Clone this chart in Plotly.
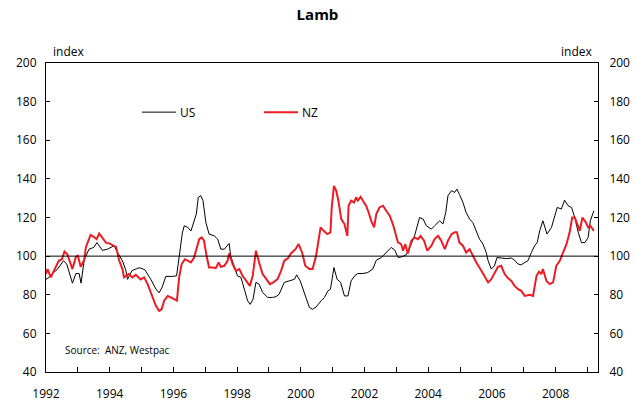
import plotly.graph_objects as go

# ---- data (decimal years, index values) ----
us_t = [1992.0, 1992.1, 1992.2, 1992.35, 1992.55, 1992.65, 1992.83, 1992.94, 1993.04, 1993.1,
        1993.2, 1993.35, 1993.5, 1993.6, 1993.77, 1993.93, 1994.14, 1994.24, 1994.4, 1994.5,
        1994.56, 1994.7, 1994.85, 1994.93, 1995.1, 1995.29, 1995.45, 1995.55, 1995.65, 1995.76,
        1995.97, 1996.1, 1996.2, 1996.28, 1996.34, 1996.45, 1996.55, 1996.65, 1996.72, 1996.78,
        1996.86, 1996.93, 1997.02, 1997.12, 1997.28, 1997.39, 1997.49, 1997.6, 1997.75, 1997.8,
        1997.91, 1998.01, 1998.12, 1998.22, 1998.33, 1998.41, 1998.5, 1998.59, 1998.69, 1998.8,
        1998.96, 1999.11, 1999.22, 1999.32, 1999.48, 1999.64, 1999.8, 1999.87, 1999.98, 2000.16,
        2000.27, 2000.37, 2000.48, 2000.64, 2000.74, 2000.85, 2000.93, 2001.04, 2001.14, 2001.25,
        2001.37, 2001.48, 2001.58, 2001.69, 2001.79, 2001.95, 2002.1, 2002.26, 2002.37, 2002.53,
        2002.68, 2002.84, 2002.95, 2003.05, 2003.18, 2003.31, 2003.42, 2003.57, 2003.73, 2003.84,
        2003.94, 2004.1, 2004.2, 2004.36, 2004.46, 2004.55, 2004.62, 2004.73, 2004.83, 2004.9,
        2004.98, 2005.09, 2005.19, 2005.3, 2005.4, 2005.51, 2005.61, 2005.72, 2005.82, 2005.88,
        2005.98, 2006.08, 2006.16, 2006.3, 2006.45, 2006.61, 2006.71, 2006.82, 2006.92, 2007.03,
        2007.13, 2007.24, 2007.34, 2007.42, 2007.5, 2007.6, 2007.73, 2007.87, 2007.97, 2008.05,
        2008.18, 2008.28, 2008.39, 2008.5, 2008.6, 2008.71, 2008.81, 2008.92, 2009.02, 2009.09,
        2009.2]
us_v = [88, 89, 91, 93, 97.6, 96, 86, 91, 91, 86,
        98, 103.6, 104.5, 107, 103, 103.6, 105.4, 102, 97.6, 93,
        88, 92.5, 93.5, 94, 93, 88, 83, 81, 84, 89.5,
        89.5, 89.8, 102, 112, 115.7, 114.9, 113, 118, 121.8, 130.4,
        131.3, 128.7, 117.4, 111.4, 110.5, 108.8, 103.6, 103.6, 106.6, 100,
        94, 89.8, 89, 83.8, 76.9, 75, 77.7, 86.4, 85.5, 81.2,
        78.6, 78.6, 79, 80.3, 86.4, 87.2, 88, 90.3, 87.2, 78.6,
        73.4, 72.5, 73.7, 76.9, 78.6, 82, 82.9, 94.1, 88, 86.4,
        79.4, 79.4, 87.2, 89.8, 91, 91, 91.5, 93.3, 97.9, 99.3,
        101.9, 104.5, 103.1, 99.3, 99.7, 100.7, 104.5, 110.5, 120, 119.2,
        115.7, 114, 115.7, 118.3, 116.6, 122.6, 131.3, 133.9, 133, 134.7,
        132, 127.8, 122.6, 119.2, 117.4, 112.3, 108.8, 106.2, 101.9, 97.6,
        93.3, 95, 99.3, 99, 98.7, 99, 97.9, 95.9, 95.5, 96.7,
        97.6, 101.9, 105.4, 107, 113.1, 118.3, 111.4, 114.9, 120, 125.2,
        124.4, 129, 126.1, 125.2, 120, 112.3, 107, 107, 109.7, 118.3,
        123.5]

nz_t = [1992.0, 1992.05, 1992.15, 1992.3, 1992.4, 1992.5, 1992.58, 1992.67, 1992.83, 1992.94,
        1993.0, 1993.09, 1993.2, 1993.25, 1993.35, 1993.4, 1993.5, 1993.59, 1993.67, 1993.77,
        1993.88, 1993.98, 1994.1, 1994.2, 1994.3, 1994.4, 1994.45, 1994.6, 1994.71, 1994.82,
        1994.97, 1995.08, 1995.19, 1995.34, 1995.45, 1995.55, 1995.63, 1995.71, 1995.82, 1995.92,
        1996.02, 1996.11, 1996.18, 1996.26, 1996.36, 1996.45, 1996.55, 1996.65, 1996.73, 1996.81,
        1996.89, 1996.96, 1997.04, 1997.12, 1997.23, 1997.33, 1997.42, 1997.49, 1997.6, 1997.7,
        1997.75, 1997.86, 1997.96, 1998.07, 1998.17, 1998.28, 1998.4, 1998.49, 1998.59, 1998.69,
        1998.8, 1998.92, 1999.03, 1999.14, 1999.27, 1999.38, 1999.48, 1999.59, 1999.69, 1999.83,
        1999.93, 2000.04, 2000.14, 2000.27, 2000.37, 2000.48, 2000.62, 2000.72, 2000.83, 2000.93,
        2000.97, 2001.04, 2001.11, 2001.18, 2001.27, 2001.37, 2001.46, 2001.5, 2001.58, 2001.67,
        2001.74, 2001.79, 2001.88, 2001.95, 2002.05, 2002.13, 2002.21, 2002.3, 2002.37, 2002.47,
        2002.58, 2002.68, 2002.79, 2002.89, 2002.97, 2003.05, 2003.15, 2003.21, 2003.28, 2003.36,
        2003.47, 2003.57, 2003.68, 2003.76, 2003.87, 2003.97, 2004.1, 2004.2, 2004.31, 2004.41,
        2004.52, 2004.62, 2004.73, 2004.83, 2004.9, 2004.98, 2005.09, 2005.19, 2005.3, 2005.4,
        2005.51, 2005.67, 2005.77, 2005.88, 2005.98, 2006.08, 2006.19, 2006.29, 2006.4, 2006.5,
        2006.61, 2006.71, 2006.82, 2006.92, 2007.03, 2007.19, 2007.29, 2007.4, 2007.48, 2007.55,
        2007.6, 2007.71, 2007.81, 2007.92, 2008.02, 2008.13, 2008.23, 2008.34, 2008.44, 2008.52,
        2008.6, 2008.67, 2008.76, 2008.84, 2008.95, 2009.02, 2009.09, 2009.2]
nz_v = [90.7, 93.3, 89, 93.8, 97.6, 98.4, 102.4, 101, 93.3, 99.7,
        100.2, 94.5, 98, 104.5, 108.3, 111, 110, 108.8, 111.7, 109.7,
        107, 106.6, 105.5, 104.8, 97.6, 93.3, 89, 90.7, 89, 90.3,
        87.9, 89, 85.5, 79.4, 74.3, 71.7, 72.5, 76.9, 79.4, 78.6,
        77.7, 76.9, 89, 95.9, 98.4, 97.6, 96.7, 99.3, 104.5, 108.8,
        109.7, 108, 100.2, 94.1, 94.1, 93.8, 96.7, 94.5, 95, 97.6,
        101.4, 95.9, 92.4, 93.3, 89.8, 87.2, 84.6, 89.8, 102.8, 96.7,
        90.7, 88.1, 85.5, 86.4, 88.1, 92.4, 97.6, 98.8, 101.4, 103.6,
        106.2, 101.9, 95, 93.3, 93.3, 100.2, 114.9, 113.1, 111.4, 112.3,
        125.2, 136.4, 133.9, 128.7, 119.2, 116.6, 110.5, 126.1, 128.7, 127.8,
        130.4, 128.7, 130.7, 128.7, 126.1, 122.6, 118.3, 114.9, 121.8, 125.2,
        126.1, 123.5, 120.9, 116.6, 111.4, 107.1, 106.2, 102.8, 106.2, 101.4,
        108, 109.7, 108.8, 110.5, 108, 102.8, 105.4, 108.8, 110.5, 108,
        103.6, 108, 111.4, 112.3, 112.3, 107, 105.4, 101.9, 103.6, 100.2,
        96.7, 92.4, 89.8, 86.4, 88.1, 91.5, 94.5, 95, 90.7, 88.6,
        87.2, 84.6, 82.9, 82, 79.4, 80, 79.4, 89.8, 92, 90.7,
        93.3, 87.2, 85.5, 86.4, 95, 97.6, 101.9, 106.2, 112.3, 120,
        120, 116.6, 113.1, 120, 117.4, 114.9, 115.7, 113.1]

year_ticks = list(range(1992, 2010))
year_labels = [str(y) if y % 2 == 0 else "" for y in year_ticks]
y_ticks = [40, 60, 80, 100, 120, 140, 160, 180, 200]
series_names = ["US", "NZ"]

FONT = "Open Sans"
RED = "#ec1c24"
COLORS = ["black", RED]
WIDTHS = [1, 2]

W, H = 635, 407

fig = go.Figure()
for name, t, v, c, w in zip(series_names, [us_t, nz_t], [us_v, nz_v], COLORS, WIDTHS):
    fig.add_trace(go.Scatter(x=t, y=v, name=name, mode="lines", showlegend=False,
                             line=dict(color=c, width=w)))
# invisible trace to activate the right axis
fig.add_trace(go.Scatter(x=[1992], y=[100], yaxis="y2", mode="lines",
                         showlegend=False, hoverinfo="skip",
                         line=dict(color="rgba(0,0,0,0)")))

fig.add_shape(type="line", xref="paper", x0=0, x1=1, yref="y", y0=100, y1=100,
              line=dict(color="black", width=1))

# manual legend (line sample + label)
legend_pos = [(0.174, 0.2355), (0.395, 0.4565)]
for name, (x0, x1), c, w in zip(series_names, legend_pos, COLORS, WIDTHS):
    fig.add_shape(type="line", xref="paper", yref="paper", x0=x0, x1=x1, y0=0.841, y1=0.841,
                  line=dict(color=c, width=w))
    fig.add_annotation(text=name, xref="paper", yref="paper", x=x1 + 0.004, y=0.841,
                       xanchor="left", yanchor="middle", showarrow=False,
                       font=dict(family=FONT, size=12, color="black"))

axis_common = dict(showgrid=False, zeroline=False, showline=True, linecolor="black",
                   linewidth=1, ticks="inside", tickcolor="black", automargin=False,
                   tickfont=dict(family=FONT, size=12, color="black"))

fig.update_layout(
    width=W, height=H,
    margin=dict(l=46, r=37, t=63, b=35),
    paper_bgcolor="white", plot_bgcolor="white",
    title=dict(text="<b>Lamb</b>", x=0.5, xanchor="center", y=1 - 15 / H, yanchor="middle",
               font=dict(family=FONT, size=15, color="black")),
    xaxis=dict(range=[1992, 2009.33], tickvals=year_ticks, ticktext=year_labels,
               mirror=True, ticklen=5, ticklabelstandoff=11, **axis_common),
    yaxis=dict(range=[40, 200], tickvals=y_ticks, mirror=True, ticklen=4,
               ticklabelstandoff=6, **axis_common),
    yaxis2=dict(range=[40, 200], tickvals=y_ticks, overlaying="y", side="right",
                ticklen=4, ticklabelstandoff=8, **axis_common),
    showlegend=False,
)

fig.add_annotation(text="index", xref="paper", yref="paper", x=0.009, y=1.0,
                   xanchor="left", yanchor="bottom", showarrow=False, yshift=1,
                   font=dict(family=FONT, size=12, color="black"))
fig.add_annotation(text="index", xref="paper", yref="paper", x=0.993, y=1.0,
                   xanchor="right", yanchor="bottom", showarrow=False, yshift=1,
                   font=dict(family=FONT, size=12, color="black"))
fig.add_annotation(text="Source:  ANZ, Westpac", xref="paper", yref="paper",
                   x=0.03, y=0.071, xanchor="left", yanchor="middle", showarrow=False,
                   font=dict(family=FONT, size=10, color="black"))

# remove the browser's default 8px body margin so the figure fills the window
fig.write_html("out.html", config={"displayModeBar": False},
               post_script="document.body.style.margin='0';")
